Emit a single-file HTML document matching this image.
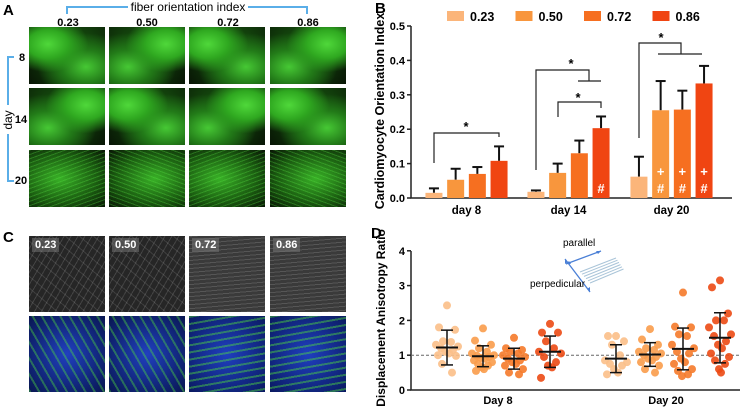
<!DOCTYPE html>
<html><head><meta charset="utf-8">
<style>
body{margin:0;background:#fff;width:740px;height:409px;overflow:hidden;position:relative;font-family:"Liberation Sans",sans-serif;}
.abs{position:absolute;}
.lbl{position:absolute;font-weight:bold;font-size:15px;}
.img{position:absolute;overflow:hidden;}
.g8{background:radial-gradient(ellipse at 25% 30%,#4fd83a 0,#2fa820 25%,transparent 50%),radial-gradient(ellipse at 75% 70%,#46c834 0,#227a18 30%,transparent 60%),radial-gradient(circle at 60% 40%,#185a10,#081505);}
.gs{background:repeating-linear-gradient(160deg,rgba(90,230,70,.3) 0 1px,transparent 1px 4px),radial-gradient(ellipse at 40% 50%,#38b026,#1a5a10 60%,#081505);}
.grey{background:repeating-linear-gradient(120deg,rgba(200,200,200,.18) 0 1px,transparent 1px 6px),repeating-linear-gradient(40deg,rgba(200,200,200,.15) 0 1px,transparent 1px 9px),#262626;}
.greyh{background:repeating-linear-gradient(175deg,rgba(210,210,210,.18) 0 1px,transparent 1px 4px),#3a3a3a;}
.bg{background:repeating-linear-gradient(170deg,rgba(80,220,60,.45) 0 2px,transparent 2px 7px),radial-gradient(circle at 50% 50%,#1f3fbf,#0a1a60);}
.tl{position:absolute;left:3px;top:2px;color:#fff;font-weight:bold;font-size:11px;background:rgba(120,120,120,.5);padding:1px 3px;}
</style></head><body>
<div class="lbl" style="left:3px;top:2px">A</div>
<div class="lbl" style="left:3px;top:229px">C</div>
<svg class="abs" style="left:0;top:0" width="370" height="230">
<path d="M67,14 V7 H128 M248,7 H307 V14" stroke="#5aaee8" stroke-width="2" fill="none"/>
<text x="188" y="11" font-size="12" text-anchor="middle" font-family="Liberation Sans">fiber orientation index</text>
<g font-size="11" font-weight="bold" text-anchor="middle" font-family="Liberation Sans">
<text x="68" y="26">0.23</text><text x="147" y="26">0.50</text><text x="228" y="26">0.72</text><text x="308" y="26">0.86</text>
<text x="22" y="61">8</text><text x="21" y="123">14</text><text x="21" y="184">20</text></g>
<path d="M14,57 H8 V105 M8,134 V181 H14" stroke="#5aaee8" stroke-width="2" fill="none"/>
<text transform="translate(12,120) rotate(-90)" font-size="12" text-anchor="middle" font-family="Liberation Sans">day</text>
</svg>
<div id="imgs"></div>
<svg id="chart" class="abs" style="left:370px;top:0" width="370" height="409"></svg>
<script>
// Panel B data
const bCategories=["day 8","day 14","day 20"];
const bSeriesNames=["0.23","0.50","0.72","0.86"];
const bMeans=[[0.015,0.053,0.070,0.108],[0.018,0.073,0.130,0.203],[0.062,0.255,0.257,0.333]];
const bErrTop=[[0.028,0.085,0.090,0.150],[0.022,0.100,0.167,0.237],[0.120,0.340,0.312,0.384]];
const bTicks=["0.0","0.1","0.2","0.3","0.4","0.5"];
// Panel D data
const dCategories=["Day 8","Day 20"];
const dTicks=["0","1","2","3","4"];
const dPoints=[
[2.43,1.8,1.73,1.4,1.38,1.3,1.25,1.2,1.15,1.1,1.05,1.0,0.98,0.75,0.5],
[1.77,1.42,1.3,1.2,1.1,1.05,1.0,0.98,0.95,0.92,0.9,0.85,0.8,0.75,0.7,0.65,0.6,0.55],
[1.5,1.2,1.15,1.1,1.05,1.0,0.95,0.9,0.85,0.8,0.75,0.7,0.6,0.5,0.45],
[1.9,1.65,1.65,1.4,1.2,1.1,1.05,0.95,0.8,0.7,0.65,0.35],
[1.55,1.55,1.4,1.3,1.0,0.85,0.8,0.75,0.7,0.6,0.5,0.45],
[1.75,1.45,1.3,1.2,1.15,1.1,1.05,1.0,0.95,0.9,0.85,0.8,0.7,0.6,0.5],
[2.8,1.82,1.8,1.6,1.55,1.3,1.2,1.1,1.05,0.9,0.8,0.75,0.6,0.55,0.45,0.4],
[3.15,2.95,2.2,2.0,2.0,1.8,1.6,1.55,1.4,1.3,1.2,1.05,0.95,0.85,0.75,0.6,0.5]];
const dMeans=[1.22,0.97,0.9,1.1,0.9,1.02,1.18,1.5];
const dSD=[0.5,0.3,0.3,0.45,0.4,0.34,0.6,0.72];

const NS="http://www.w3.org/2000/svg";
const svg=document.getElementById('chart');
function el(t,a,p){const e=document.createElementNS(NS,t);for(const k in a)e.setAttribute(k,a[k]);(p||svg).appendChild(e);return e;}
const bCols=["#fbb57a","#f8963d","#f66f20","#f04512"];
const dCols=["#fbbf88","#f99c4b","#f57a2a","#ec4a14"];
const FF="Liberation Sans";
// ---- Panel B ----
const bY=v=>198-v*344;
const bGroupX=i=>[96.5,198.5,301.5][i];
const bBarX=(g,s)=>bGroupX(g)+(s-1.5)*21.7;
const bw=17;
let t=el('text',{x:5,y:13,'font-size':15,'font-weight':'bold','font-family':FF});t.textContent='B';


let ax=el('path',{d:'M41,26 V198 H362',stroke:'#222','stroke-width':1.5,fill:'none'});


bTicks.forEach((lab,i)=>{const v=parseFloat(lab);el('line',{x1:37,x2:41,y1:bY(v),y2:bY(v),stroke:'#222','stroke-width':1.5});
 const tx=el('text',{x:35,y:bY(v)+4,'font-size':11,'font-weight':'bold','text-anchor':'end','font-family':FF});tx.textContent=lab;
 
 });
t=el('text',{transform:'translate(14,111) rotate(-90)','font-size':12.5,'font-weight':'bold','text-anchor':'middle','font-family':FF});t.textContent='Cardiomyocyte Orientation Index';


bCategories.forEach((c,g)=>{const tx=el('text',{x:bGroupX(g),y:214,'font-size':11.5,'font-weight':'bold','text-anchor':'middle','font-family':FF});tx.textContent=c;
 
 
 bMeans[g].forEach((m,s)=>{const x=bBarX(g,s);
  el('line',{x1:x,x2:x,y1:bY(m),y2:bY(bErrTop[g][s]),stroke:'#111','stroke-width':2});
  el('line',{x1:x-5,x2:x+5,y1:bY(bErrTop[g][s]),y2:bY(bErrTop[g][s]),stroke:'#111','stroke-width':2});
  const r=el('rect',{x:x-bw/2,y:bY(m),width:bw,height:198-bY(m),fill:bCols[s]});
  
  });});
// legend
bSeriesNames.forEach((n,s)=>{const lx=77+s*68.5;
 const r=el('rect',{x:lx,y:11,width:17,height:10,fill:bCols[s]});
 
 
 const tx=el('text',{x:lx+23,y:21,'font-size':12.5,'font-weight':'bold','font-family':FF});tx.textContent=n;
 
 });
// significance brackets
function br(d){el('path',{d:d,stroke:'#222','stroke-width':1.2,fill:'none'});}
function star(x,y){const s=el('text',{x:x,y:y,'font-size':13,'font-weight':'bold','text-anchor':'middle','font-family':FF});s.textContent='*';}
br('M64,163 V133 H129 V137');star(96,131);
br('M166,170 V70 H219 V81 M208,81 H231');star(201,68);
br('M188,117 V102 H231 V108');star(208,102);
br('M269,138 V43 H311 V54 M288,54 H332');star(291,42);
function sym(x,y,c){const s=el('text',{x:x,y:y,'font-size':13,'font-weight':'bold','fill':'#fff','text-anchor':'middle','font-family':FF});s.textContent=c;}
sym(bBarX(1,3),193,'#');
[1,2,3].forEach(s=>{sym(bBarX(2,s),176,'+');sym(bBarX(2,s),193,'#');});
// ---- Panel D ----
const dY=v=>390-v*34.8;
const dX=i=>[77,113,144,180,246,280,313,350][i];
t=el('text',{x:1,y:238,'font-size':15,'font-weight':'bold','font-family':FF});t.textContent='D';


ax=el('path',{d:'M41,251 V390 H370',stroke:'#222','stroke-width':1.5,fill:'none'});


dTicks.forEach(lab=>{const v=+lab;el('line',{x1:37,x2:41,y1:dY(v),y2:dY(v),stroke:'#222','stroke-width':1.5});
 const tx=el('text',{x:35,y:dY(v)+4,'font-size':11,'font-weight':'bold','text-anchor':'end','font-family':FF});tx.textContent=lab;
 
 });
t=el('text',{transform:'translate(15,318) rotate(-90)','font-size':12,'font-weight':'bold','text-anchor':'middle','font-family':FF});t.textContent='Displacement Anisotropy  Ratio';


dCategories.forEach((c,i)=>{const tx=el('text',{x:[128,296][i],y:404,'font-size':11,'font-weight':'bold','text-anchor':'middle','font-family':FF});tx.textContent=c;
 
 });
el('line',{x1:41,x2:370,y1:dY(1),y2:dY(1),stroke:'#666','stroke-width':1,'stroke-dasharray':'3,2'});
const jit=[0,-8,8,-4,4,-11,11,-6,6,-2,2,-9,9,-5,5,-1,1,-7,7];
dPoints.forEach((pts,g)=>{pts.forEach((v,k)=>{
 const c=el('circle',{cx:dX(g)+jit[k%jit.length],cy:dY(v),r:4,fill:dCols[g%4],'fill-opacity':0.9});
 
 });
 const x=dX(g),m=dMeans[g],sd=dSD[g];
 el('line',{x1:x,x2:x,y1:dY(m+sd),y2:dY(m-sd),stroke:'#111','stroke-width':1.5});
 el('line',{x1:x-11,x2:x+11,y1:dY(m),y2:dY(m),stroke:'#111','stroke-width':2});
 el('line',{x1:x-6,x2:x+6,y1:dY(m+sd),y2:dY(m+sd),stroke:'#111','stroke-width':1.5});
 el('line',{x1:x-6,x2:x+6,y1:dY(m-sd),y2:dY(m-sd),stroke:'#111','stroke-width':1.5});});
// inset
const ins=el('g',{});


for(let k=0;k<6;k++){el('line',{x1:210+k*2,y1:272+k*2.2,x2:246+k*1.5,y2:258+k*2.2,stroke:'#a9c4d8','stroke-width':1},ins);}
el('line',{x1:196,y1:264,x2:231,y2:251,stroke:'#4a7fd6','stroke-width':1.3},ins);
el('line',{x1:195,y1:259,x2:220,y2:292,stroke:'#4a7fd6','stroke-width':1.3},ins);
el('path',{d:'M231,251 l-5,0 l2,3 z M196,264 l5,0 l-2,-3z M195,259 l0,5 l3,-2z M220,292 l0,-5 l-3,2z',fill:'#4a7fd6'},ins);
t=el('text',{x:193,y:246,'font-size':10,'font-family':FF},ins);t.textContent='parallel';
t=el('text',{x:160,y:287,'font-size':10,'font-family':FF},ins);t.textContent='perpedicular';
// ---- microscopy tiles ----
const cont=document.getElementById('imgs');
const colsX=[29,109,189,270];
const aRows=[[27,'g8'],[88,'g8'],[150,'gs']];
const labs=["0.23","0.50","0.72","0.86"];
aRows.forEach((r,ri)=>colsX.forEach((x,ci)=>{const d=document.createElement('div');d.className='img '+r[1];
 d.style.cssText+=`left:${x}px;top:${r[0]}px;width:76px;height:57px;`+((ri+ci)%2?'transform:scaleX(-1);':'');
 
 cont.appendChild(d);}));
colsX.forEach((x,ci)=>{const d=document.createElement('div');d.className='img '+(ci<2?'grey':'greyh');
 d.style.cssText+=`left:${x}px;top:236px;width:76px;height:76px;`;
 d.innerHTML='<span class="tl">'+labs[ci]+'</span>';
 
 cont.appendChild(d);
 const e=document.createElement('div');e.className='img bg';
 e.style.cssText+=`left:${x}px;top:316px;width:76px;height:76px;`+(ci<2?'background:repeating-linear-gradient(60deg,rgba(80,220,60,.4) 0 2px,transparent 2px 8px),radial-gradient(circle,#2040c0,#081650);':'');
 
 cont.appendChild(e);});
</script>
</body></html>
